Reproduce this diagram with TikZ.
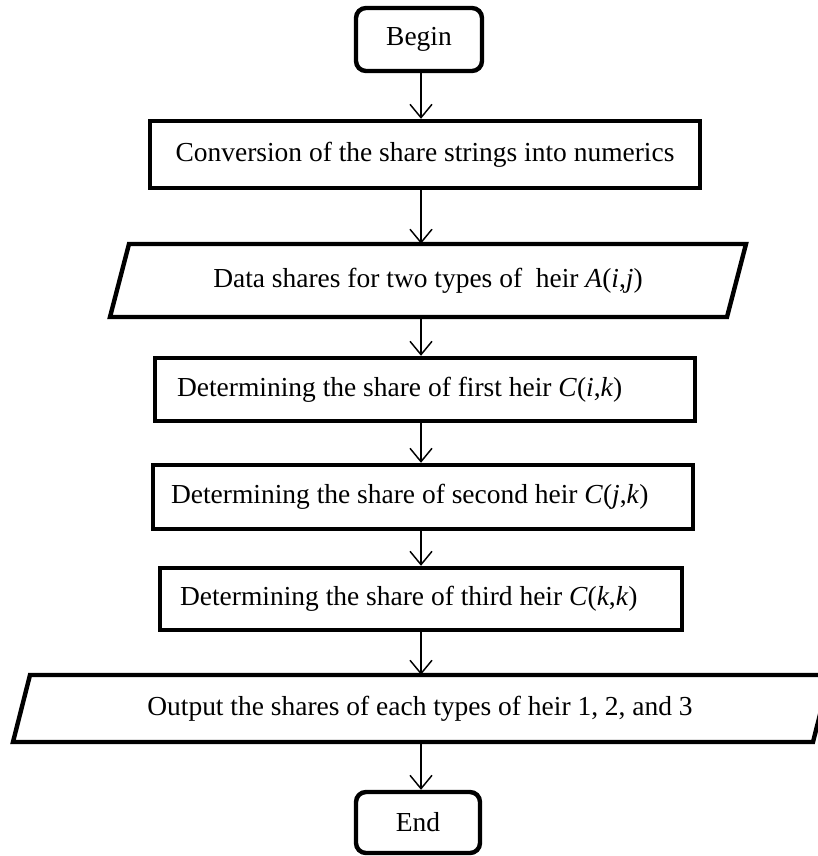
\documentclass[tikz,border=0pt]{standalone}
\usepackage{fontspec}
\setmainfont{Liberation Serif}
\usetikzlibrary{arrows.meta,calc}
\begin{document}
\begin{tikzpicture}[x=0.75pt,y=-0.75pt,
  font=\fontsize{20.6}{24}\selectfont,
  term/.style={draw, line width=3.3pt, rounded corners=7.5pt, inner sep=0pt},
  proc/.style={draw, line width=3.3pt, inner sep=0pt},
  txt/.style={inner sep=0pt, anchor=west},
  iotext/.style={inner sep=0pt},
  para/.style={draw, line width=3.3pt, line join=miter},
  arr/.style={line width=1.1pt, -{Straight Barb[length=10pt,width=16.5pt,line width=1.1pt]}}]
\useasboundingbox (0,0) rectangle (817,856);
\coordinate (ax) at (421,0);
\node[term, minimum width=94.5pt, minimum height=47.25pt] (begin) at (419,39.5) {Begin};
\node[proc, minimum width=412.5pt, minimum height=50.25pt] (conv) at (425,154.5) {Conversion of the share strings into numerics};
\draw[para] (129,244) -- (746,244) -- (727,317) -- (110,317) -- cycle;
\node[iotext, minimum height=54.75pt] (data) at (428,280.5) {Data shares for two types of~ heir \textit{A}(\textit{i},\textit{j})};
\node[proc, minimum width=405pt, minimum height=47.25pt] (first) at (425,389.5) {};
\node[txt] (first-t) at ($(first.west)+(24,0)$) {Determining the share of first heir \textit{C}(\textit{i},\textit{k})};
\node[proc, minimum width=405pt, minimum height=48pt] (second) at (423,497) {};
\node[txt] (second-t) at ($(second.west)+(20,0)$) {Determining the share of second heir \textit{C}(\textit{j},\textit{k})};
\node[proc, minimum width=391.5pt, minimum height=46.5pt] (third) at (421,599) {};
\node[txt] (third-t) at ($(third.west)+(22,0)$) {Determining the share of third heir \textit{C}(\textit{k},\textit{k})};
\draw[para] (30,675) -- (830,675) -- (813,742) -- (13,742) -- cycle;
\node[iotext, minimum height=50.25pt] (out) at (420,708.5) {Output the shares of each types of heir 1, 2, and 3};
\node[term, minimum width=93pt, minimum height=45.75pt] (end) at (418,822.5) {End};
\draw[arr] (begin.south -| ax) -- (conv.north -| ax);
\draw[arr] (conv.south -| ax) -- (data.north -| ax);
\draw[arr] (data.south -| ax) -- (first.north -| ax);
\draw[arr] (first.south -| ax) -- (second.north -| ax);
\draw[arr] (second.south -| ax) -- (third.north -| ax);
\draw[arr] (third.south -| ax) -- (out.north -| ax);
\draw[arr] (out.south -| ax) -- (end.north -| ax);
\end{tikzpicture}
\end{document}
